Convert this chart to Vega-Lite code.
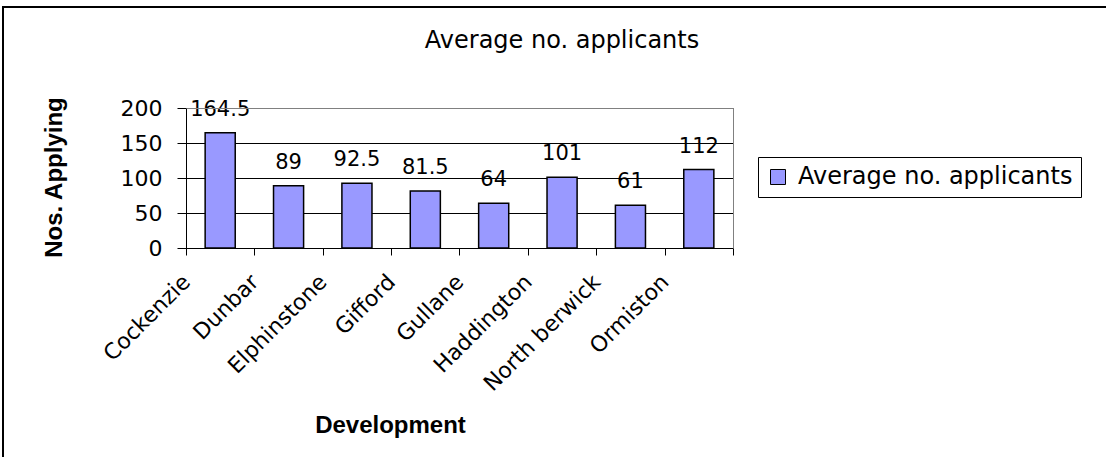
{
  "$schema": "https://vega.github.io/schema/vega-lite/v6.json",
  "width": 1110,
  "height": 460,
  "autosize": {"type": "none"},
  "padding": {"left": 3, "top": 7, "right": 0, "bottom": 0},
  "background": "white",
  "title": {
    "text": "Average no. applicants",
    "font": "DejaVu Sans",
    "fontSize": 24,
    "fontWeight": "normal",
    "color": "black",
    "anchor": "middle",
    "frame": "group",
    "baseline": "alphabetic",
    "offset": 0,
    "dy": 65,
    "dx": 4
  },
  "config": {
    "view": {"stroke": "black", "strokeWidth": 2},
    "axis": {"labelColor": "black", "titleColor": "black"}
  },
  "data": {
    "values": [
      {"development": "Cockenzie", "value": 164.5, "series": "Average no. applicants"},
      {"development": "Dunbar", "value": 89, "series": "Average no. applicants"},
      {"development": "Elphinstone", "value": 92.5, "series": "Average no. applicants"},
      {"development": "Gifford", "value": 81.5, "series": "Average no. applicants"},
      {"development": "Gullane", "value": 64, "series": "Average no. applicants"},
      {"development": "Haddington", "value": 101, "series": "Average no. applicants"},
      {"development": "North berwick", "value": 61, "series": "Average no. applicants"},
      {"development": "Ormiston", "value": 112, "series": "Average no. applicants"}
    ]
  },
  "layer": [
    {
      "mark": {"type": "bar", "stroke": "black", "strokeWidth": 1.5},
      "encoding": {
        "x": {
          "field": "development",
          "type": "nominal",
          "sort": null,
          "scale": {"range": [183, 730], "paddingInner": 0.56, "paddingOuter": 0.28},
          "axis": {
            "orient": "bottom",
            "offset": -219,
            "grid": false,
            "domainColor": "black",
            "domainWidth": 1,
            "tickColor": "black",
            "tickSize": 7,
            "tickWidth": 1,
            "tickExtra": true,
            "bandPosition": 2.2727,
            "tickOffset": -19.145,
            "labelOffset": -15.04,
            "labelAngle": -45,
            "labelAlign": "right",
            "labelBaseline": "middle",
            "labelPadding": 23,
            "labelFont": "DejaVu Sans",
            "labelFontSize": 22,
            "labelLimit": 400,
            "labelOverlap": false,
            "title": "Development",
            "titleFont": "Liberation Sans",
            "titleFontSize": 24,
            "titleFontWeight": "bold",
            "titleX": 387,
            "titleY": 184,
            "titleAlign": "center",
            "titleBaseline": "alphabetic",
            "zindex": 1
          }
        },
        "y": {
          "field": "value",
          "type": "quantitative",
          "scale": {"domain": [0, 200], "range": [241, 101], "nice": false, "zero": true},
          "axis": {
            "orient": "left",
            "offset": -183,
            "values": [0, 50, 100, 150, 200],
            "grid": true,
            "gridColor": "black",
            "gridWidth": 1,
            "gridOpacity": 1,
            "domainColor": "black",
            "domainWidth": 1,
            "tickColor": "black",
            "tickSize": 9,
            "labelPadding": 15,
            "labelFont": "DejaVu Sans",
            "labelFontSize": 22,
            "title": "Nos. Applying",
            "titleFont": "Liberation Sans",
            "titleFontSize": 24,
            "titleFontWeight": "bold",
            "titleAngle": -90,
            "titleAlign": "center",
            "titleBaseline": "alphabetic",
            "titleX": -125,
            "titleY": 170
          }
        },
        "color": {
          "field": "series",
          "type": "nominal",
          "scale": {"range": ["#9999FF"]},
          "legend": {
            "orient": "none",
            "legendX": 755,
            "legendY": 150,
            "title": null,
            "strokeColor": "black",
            "fillColor": "white",
            "padding": 8,
            "symbolType": "square",
            "symbolSize": 225,
            "symbolStrokeColor": "black",
            "symbolStrokeWidth": 1,
            "labelFont": "DejaVu Sans",
            "labelFontSize": 24,
            "labelColor": "black",
            "labelLimit": 500,
            "labelOffset": 8
          }
        }
      }
    },
    {
      "mark": {"type": "text", "font": "DejaVu Sans", "fontSize": 21, "color": "black", "baseline": "middle", "align": "center", "dy": -23},
      "encoding": {
        "x": {
          "field": "development",
          "type": "nominal",
          "sort": null,
          "axis": {
            "orient": "top",
            "offset": -101,
            "grid": false,
            "labels": false,
            "ticks": false,
            "title": null,
            "domainColor": "#808080",
            "domainWidth": 1,
            "zindex": 2
          }
        },
        "y": {
          "field": "value",
          "type": "quantitative",
          "axis": {
            "orient": "right",
            "offset": -380,
            "grid": false,
            "labels": false,
            "ticks": false,
            "title": null,
            "domainColor": "#808080",
            "domainWidth": 1,
            "zindex": 2
          }
        },
        "text": {"field": "value", "type": "nominal"}
      }
    }
  ],
  "resolve": {"axis": {"x": "independent", "y": "independent"}}
}
